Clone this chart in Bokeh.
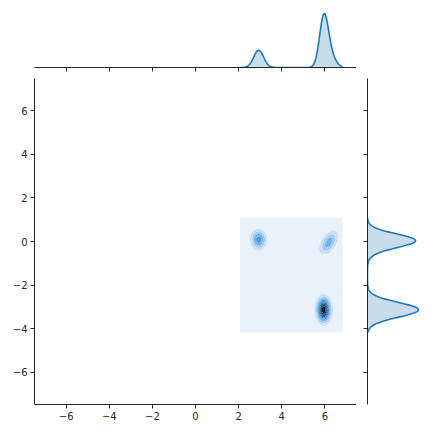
import numpy as np
from bokeh.plotting import figure
from bokeh.layouts import column, row
from bokeh.models import Range1d, FixedTicker
from bokeh.embed import file_html
from bokeh.resources import INLINE

# ---- data ----
cluster_x = [2.93, 6.18, 5.95]
cluster_y = [0.09, -0.05, -3.13]
cluster_sx = [0.23, 0.27, 0.20]
cluster_sy = [0.29, 0.34, 0.34]
cluster_rho = [0.0, 0.5, 0.0]
cluster_w = [0.24, 0.23, 0.53]
grid_x_lim = [2.06, 6.82]
grid_y_lim = [-4.17, 1.09]
axis_lim = [-7.47, 7.47]
tick_values = [-6, -4, -2, 0, 2, 4, 6]
tick_labels = ["\u22126", "\u22124", "\u22122", "0", "2", "4", "6"]

palette = ["#e9f2fb", "#c9e1f5", "#a3ccef", "#74b2e7", "#4d9bdc",
           "#2f83c8", "#1f6aaa", "#17518a", "#0f3863", "#08192e"]
line_col = "#1f77b4"
ink = "#262626"

# ---- density ----
gx = np.linspace(grid_x_lim[0], grid_x_lim[1], 240)
gy = np.linspace(grid_y_lim[0], grid_y_lim[1], 240)
X, Y = np.meshgrid(gx, gy)
Z = np.zeros_like(X)
mx_dens = np.zeros_like(gx)
my_dens = np.zeros_like(gy)
for mx, my, sx, sy, r, w in zip(cluster_x, cluster_y, cluster_sx, cluster_sy, cluster_rho, cluster_w):
    dx = (X - mx) / sx
    dy = (Y - my) / sy
    q = (dx ** 2 - 2 * r * dx * dy + dy ** 2) / (1 - r ** 2)
    Z += w * np.exp(-0.5 * q) / (2 * np.pi * sx * sy * np.sqrt(1 - r ** 2))
    mx_dens += w * np.exp(-0.5 * ((gx - mx) / sx) ** 2) / (np.sqrt(2 * np.pi) * sx)
    my_dens += w * np.exp(-0.5 * ((gy - my) / sy) ** 2) / (np.sqrt(2 * np.pi) * sy)

levels = list(np.linspace(0, Z.max(), 11))
levels[0] = -1e-9
levels[-1] = Z.max() * 1.001


def style_axis(ax, show_labels=True):
    ax.ticker = FixedTicker(ticks=tick_values)
    ax.minor_tick_line_color = None
    ax.major_tick_in = 0
    ax.major_tick_out = 4
    ax.axis_line_color = ink
    ax.major_tick_line_color = ink
    ax.axis_line_width = 1
    ax.major_tick_line_width = 1
    if show_labels:
        ax.major_label_overrides = {v: t for v, t in zip(tick_values, tick_labels)}
        ax.major_label_text_font = "DejaVu Sans"
        ax.major_label_text_font_size = "10px"
        ax.major_label_text_color = ink
        ax.major_label_standoff = 3
    else:
        ax.major_label_overrides = {v: "" for v in tick_values}
        ax.major_label_text_font_size = "1px"
        ax.major_label_standoff = 0


def clean(fig):
    fig.grid.grid_line_color = None
    fig.outline_line_color = None
    fig.background_fill_color = "white"
    fig.border_fill_color = "white"


xr = Range1d(axis_lim[0], axis_lim[1])
yr = Range1d(axis_lim[0], axis_lim[1])

# main joint plot
p = figure(width=356, height=346, x_range=xr, y_range=yr,
           output_backend="svg", toolbar_location=None,
           min_border_left=34, min_border_right=0, min_border_top=0, min_border_bottom=20)
p.contour(X, Y, Z, levels, fill_color=palette, line_color=None)
style_axis(p.xaxis[0])
style_axis(p.yaxis[0])
clean(p)

# top marginal
top = figure(width=356, height=78, x_range=xr,
             y_range=Range1d(0, mx_dens.max() / 0.947),
             output_backend="svg", toolbar_location=None, y_axis_location=None,
             min_border_left=34, min_border_right=0, min_border_top=10, min_border_bottom=11)
top.varea(x=gx, y1=np.zeros_like(gx), y2=mx_dens, fill_color=line_col, fill_alpha=0.25)
top.line(gx, mx_dens, line_color=line_col, line_width=1.6)
style_axis(top.xaxis[0], show_labels=False)
clean(top)

# right marginal
right = figure(width=68, height=346, y_range=yr,
               x_range=Range1d(0, my_dens.max() / 0.895),
               output_backend="svg", toolbar_location=None, x_axis_location=None,
               min_border_left=11, min_border_right=0, min_border_top=0, min_border_bottom=20)
right.harea(y=gy, x1=np.zeros_like(gy), x2=my_dens, fill_color=line_col, fill_alpha=0.25)
right.line(my_dens, gy, line_color=line_col, line_width=1.6)
style_axis(right.yaxis[0], show_labels=False)
clean(right)

layout = column(top, row(p, right, spacing=0), spacing=0)
open("out.html", "w").write(file_html(layout, INLINE))
